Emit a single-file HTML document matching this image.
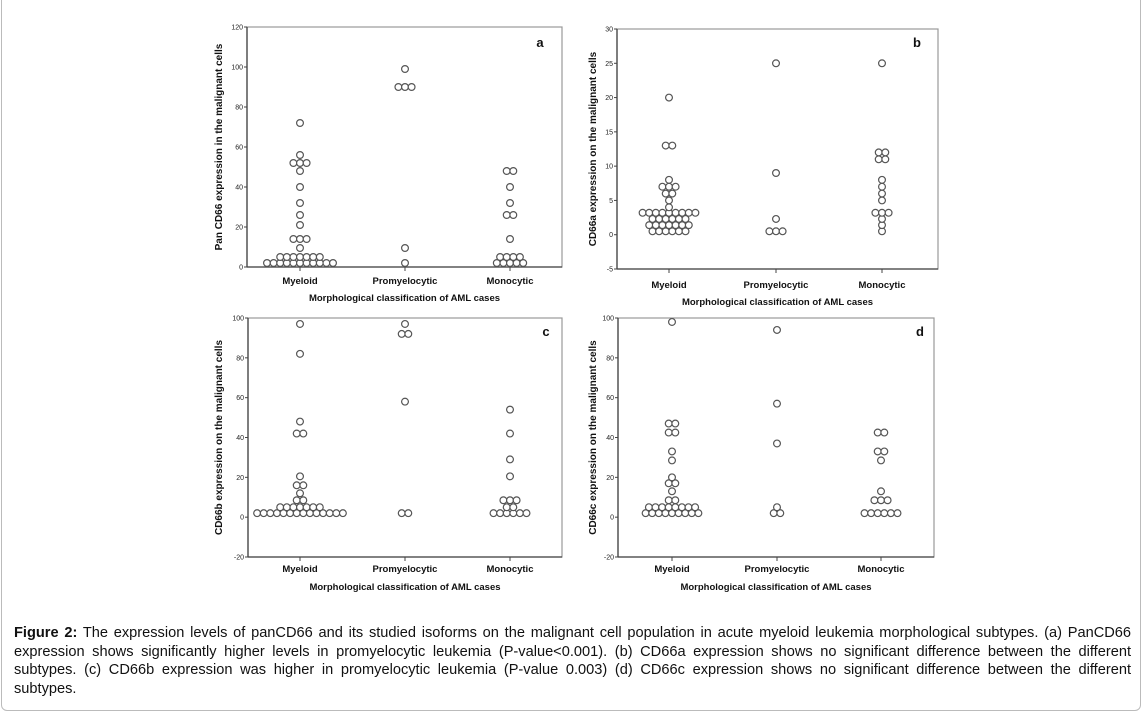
<!DOCTYPE html>
<html><head><meta charset="utf-8"><style>
html,body{margin:0;padding:0;background:#fff;width:1144px;height:714px;overflow:hidden;font-family:"Liberation Sans",Arial,sans-serif}
#frame{position:absolute;left:1px;top:-6px;width:1140px;height:717px;border:1px solid #bbb;border-radius:6px;box-sizing:border-box}
#caption{position:absolute;left:14px;top:624px;width:1117px;font-size:14.6px;line-height:18.6px;color:#111}
#caption .j{text-align:justify;text-align-last:justify;white-space:nowrap}
svg{position:absolute;left:0;top:0}
</style></head><body>
<div id="frame"></div>
<svg id="chart" width="1144" height="714"></svg>
<div id="caption">
<div class="j"><b>Figure 2:</b> The expression levels of panCD66 and its studied isoforms on the malignant cell population in acute myeloid leukemia morphological subtypes. (a) PanCD66</div>
<div class="j">expression shows significantly higher levels in promyelocytic leukemia (P-value&lt;0.001). (b) CD66a expression shows no significant difference between the different</div>
<div class="j">subtypes. (c) CD66b expression was higher in promyelocytic leukemia (P-value 0.003) (d) CD66c expression shows no significant difference between the different</div>
<div>subtypes.</div>
</div>
<script>
const categories = ["Myeloid","Promyelocytic","Monocytic"];
// values as [value, count] rows per category
const aMyeloid = [[2,11],[5,7],[9.5,1],[14,3],[21,1],[26,1],[32,1],[40,1],[48,1],[52,3],[56,1],[72,1]];
const aPromyelocytic = [[2,1],[9.5,1],[90,3],[99,1]];
const aMonocytic = [[2,5],[5,4],[14,1],[26,2],[32,1],[40,1],[48,2]];
const bMyeloid = [[0.5,6],[1.4,7],[2.3,6],[3.2,9],[4,1],[5,1],[6,2],[7,3],[8,1],[13,2],[20,1]];
const bPromyelocytic = [[0.5,3],[2.3,1],[9,1],[25,1]];
const bMonocytic = [[0.5,1],[1.4,1],[2.3,1],[3.2,3],[5,1],[6,1],[7,1],[8,1],[11,2],[12,2],[25,1]];
const cMyeloid = [[2,14],[5,7],[8.5,2],[12,1],[16,2],[20.5,1],[42,2],[48,1],[82,1],[97,1]];
const cPromyelocytic = [[2,2],[58,1],[92,2],[97,1]];
const cMonocytic = [[2,6],[5,2],[8.5,3],[20.5,1],[29,1],[42,1],[54,1]];
const dMyeloid = [[2,9],[5,8],[8.5,2],[13,1],[17,2],[20,1],[28.5,1],[33,1],[42.5,2],[47,2],[98,1]];
const dPromyelocytic = [[2,2],[5,1],[37,1],[57,1],[94,1]];
const dMonocytic = [[2,6],[8.5,3],[13,1],[28.5,1],[33,2],[42.5,2]];
const aTicks = [0,20,40,60,80,100,120];
const bTicks = [-5,0,5,10,15,20,25,30];
const cTicks = [-20,0,20,40,60,80,100];
const dTicks = [-20,0,20,40,60,80,100];
const yTitles = ["Pan CD66 expression in the malignant cells","CD66a expression on the malignant cells","CD66b expression on the malignant cells","CD66c expression on the malignant cells"];
const xTitle = "Morphological classification of AML cases";

const panels = [
 {id:"a",L:247,T:27,R:562,B:267,ticks:aTicks,data:[aMyeloid,aPromyelocytic,aMonocytic],cx:[300,405,510],catY:284,titY:301,ytx:222,lx:540,ly:47},
 {id:"b",L:617,T:29,R:938,B:269,ticks:bTicks,data:[bMyeloid,bPromyelocytic,bMonocytic],cx:[669,776,882],catY:288,titY:305,ytx:596,lx:917,ly:47},
 {id:"c",L:248,T:318,R:562,B:557,ticks:cTicks,data:[cMyeloid,cPromyelocytic,cMonocytic],cx:[300,405,510],catY:572,titY:590,ytx:222,lx:546,ly:336},
 {id:"d",L:618,T:318,R:934,B:557,ticks:dTicks,data:[dMyeloid,dPromyelocytic,dMonocytic],cx:[672,777,881],catY:572,titY:590,ytx:596,lx:920,ly:336}
];
const svg=document.getElementById('chart');
const NS="http://www.w3.org/2000/svg";
function mk(tag,attrs,parent,text){const e=document.createElementNS(NS,tag);for(const k in attrs)e.setAttribute(k,attrs[k]);if(text!==undefined)e.textContent=text;parent.appendChild(e);return e;}
panels.forEach((p,pi)=>{
 const g=mk('g',{},svg);
 
 
 const lo=p.ticks[0],hi=p.ticks[p.ticks.length-1];
 const y=v=>p.B-(v-lo)/(hi-lo)*(p.B-p.T);
 const fr=mk('rect',{x:p.L,y:p.T,width:p.R-p.L,height:p.B-p.T,fill:'none',stroke:'#999','stroke-width':1.2},g);
 
 
 const ya=mk('line',{x1:p.L,y1:p.T,x2:p.L,y2:p.B,stroke:'#444','stroke-width':1.3},g);
 
 
 const xa=mk('line',{x1:p.L,y1:p.B,x2:p.R,y2:p.B,stroke:'#444','stroke-width':1.3},g);
 
 
 p.ticks.forEach(t=>{
  mk('line',{x1:p.L-3,y1:y(t),x2:p.L,y2:y(t),stroke:'#444','stroke-width':1},g);
  const tl=mk('text',{x:p.L-4,y:y(t)+2.5,'font-size':7,'text-anchor':'end',fill:'#222'},g,String(t));
  
  
 });
 categories.forEach((c,ci)=>{
  mk('line',{x1:p.cx[ci],y1:p.B,x2:p.cx[ci],y2:p.B+4,stroke:'#444','stroke-width':1},g);
  const cl=mk('text',{x:p.cx[ci],y:p.catY,'font-size':9.5,'font-weight':'bold','text-anchor':'middle',fill:'#111'},g,c);
  
  
  p.data[ci].forEach(row=>{
   const n=row[1],sp=6.6;
   for(let k=0;k<n;k++){
    const px=p.cx[ci]+(k-(n-1)/2)*sp;
    const dot=mk('circle',{cx:px,cy:y(row[0]),r:3.4,fill:'#fff',stroke:'#555','stroke-width':1.2},g);
    
    
   }
  });
 });
 const xt=mk('text',{x:(p.L+p.R)/2,y:p.titY,'font-size':9.5,'font-weight':'bold','text-anchor':'middle',fill:'#111'},g,xTitle);
 
 
 const cy=(p.T+p.B)/2;
 const yt=mk('text',{x:p.ytx,y:cy,'font-size':10,'font-weight':'bold','text-anchor':'middle',fill:'#111',transform:`rotate(-90 ${p.ytx} ${cy})`},g,yTitles[pi]);
 
 
 const lt=mk('text',{x:p.lx,y:p.ly,'font-size':13,'font-weight':'bold','text-anchor':'middle',fill:'#111'},g,p.id);
 
 
});
</script>
</body></html>
